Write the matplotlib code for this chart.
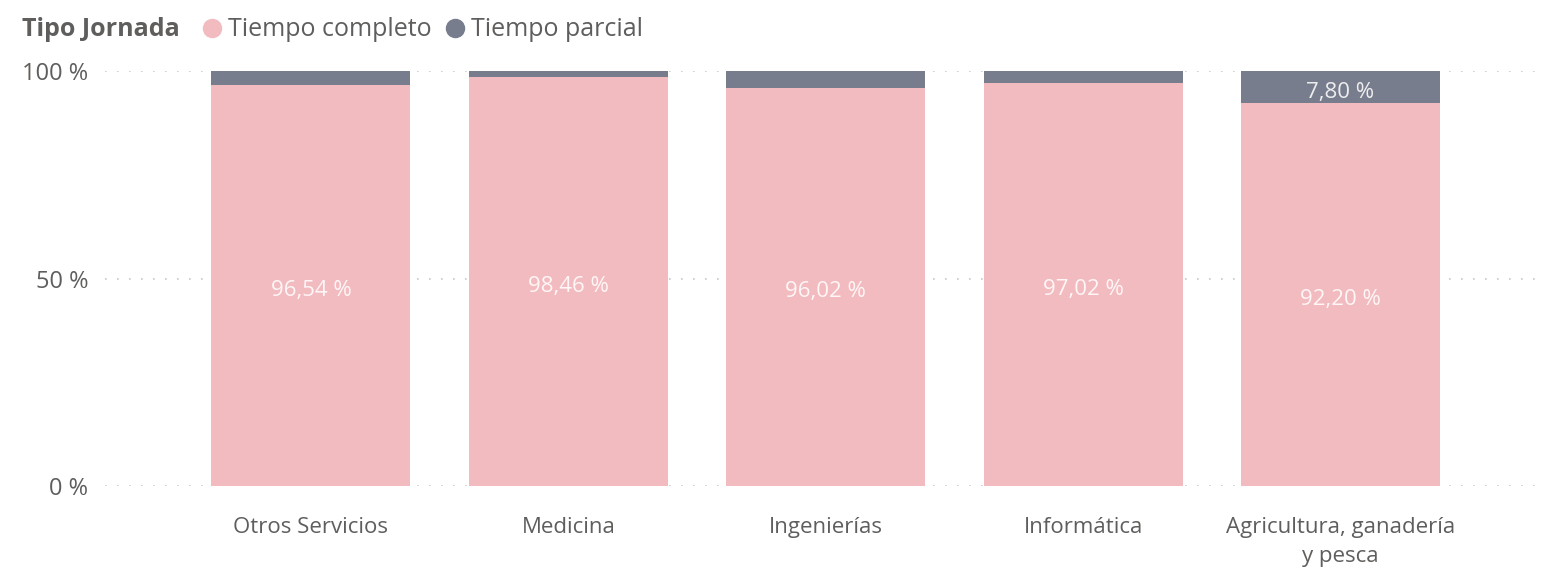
import matplotlib
matplotlib.use("Agg")
import matplotlib.pyplot as plt
import matplotlib.transforms as mtransforms
from matplotlib.lines import Line2D

categories = ["Otros Servicios", "Medicina", "Ingenierías", "Informática", "Agricultura, ganadería\ny pesca"]
completo = [96.54, 98.46, 96.02, 97.02, 92.20]
parcial = [3.46, 1.54, 3.98, 2.98, 7.80]
yticks = [0, 50, 100]
ytick_labels = ["0 %", "50 %", "100 %"]
series_names = ["Tiempo completo", "Tiempo parcial"]
legend_title = "Tipo Jornada"

c_pink = "#F2BBC0"
c_gray = "#777D8D"
c_text = "#605E5C"

plt.rcParams['font.family'] = ['Open Sans', 'DejaVu Sans']

fig = plt.figure(figsize=(15.41, 5.70), dpi=100)
ax = fig.add_axes([105/1541, (570-486)/570, (1540-105)/1541, (486-71)/570])

x = list(range(len(categories)))
w = 0.773
ax.bar(x, completo, width=w, color=c_pink, zorder=3)
ax.bar(x, parcial, width=w, bottom=completo, color=c_gray, zorder=3)

down = mtransforms.offset_copy(ax.transData, fig=fig, x=0, y=-5, units="dots")
for i in x:
    ax.text(i, completo[i] / 2, f"{completo[i]:.2f} %".replace(".", ","), ha="center", va="center",
            color="#FFF6F7", fontsize=16, zorder=4, transform=down)
    if parcial[i] >= 5:
        ax.text(i, completo[i] + parcial[i] / 2, f"{parcial[i]:.2f} %".replace(".", ","), ha="center",
                va="center", color="#EEEEEE", fontsize=16, zorder=4, transform=down)

ax.set_xlim(-0.80, 4.775)
ax.set_ylim(0, 100)
ax.set_yticks(yticks)
ax.set_yticklabels(ytick_labels)
ax.set_xticks(x)
ax.set_xticklabels(categories, linespacing=1.55)
for s in ax.spines.values():
    s.set_visible(False)
ax.tick_params(axis="y", length=0, labelsize=17, colors=c_text, pad=12)
ax.tick_params(axis="x", length=0, labelsize=16, colors=c_text, pad=22)
ax.yaxis.grid(True, color="#C8C8C8", linewidth=1.2, linestyle=(0, (1, 6.2)), zorder=0)
ax.set_axisbelow(True)

# legend
ly = 1 - 30/570
fig.text(22/1541, ly, legend_title, fontsize=18, fontweight="bold", color=c_text, va="center", ha="left")
handles = [Line2D([], [], marker="o", linestyle="", markersize=13, color=c) for c in [c_pink, c_gray]]
leg = fig.legend(handles, series_names, loc="center left", bbox_to_anchor=(202/1541, ly),
                 frameon=False, ncol=2, fontsize=18, handletextpad=0.24, columnspacing=0.52,
                 handlelength=0.8, borderpad=0, borderaxespad=0)
for t in leg.get_texts():
    t.set_color(c_text)

fig.savefig("out.png", dpi=100, facecolor="white")
